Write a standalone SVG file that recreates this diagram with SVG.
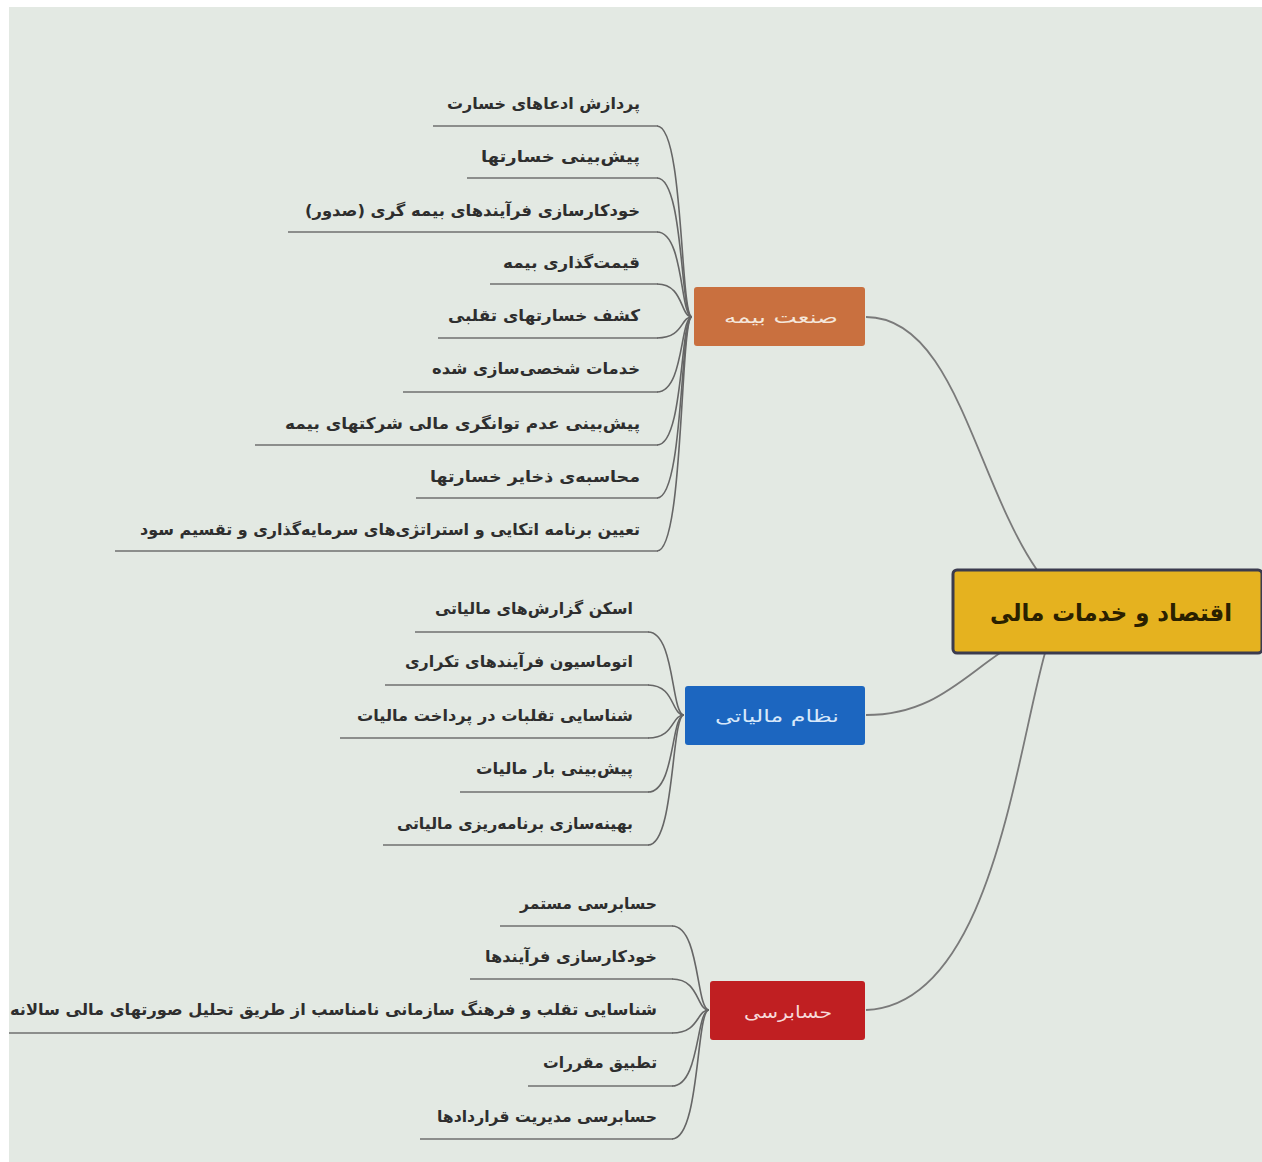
<svg xmlns="http://www.w3.org/2000/svg" width="1262" height="1162" viewBox="0 0 1262 1162">
<style>
.bg{fill:#e3e9e3}
.lbl{font-family:"DejaVu Sans",sans-serif;font-size:16px;font-weight:bold;fill:#2e2e2e}
.ul{stroke:#6f6f6f;stroke-width:1.6;fill:none}
.con{stroke:#666666;stroke-width:1.6;fill:none}
.rcon{stroke:#7a7a7a;stroke-width:1.8;fill:none}
.btxt{font-family:"DejaVu Sans",sans-serif;font-size:17px}
</style>
<rect width="1262" height="1162" fill="#ffffff"/>
<rect x="9" y="7" width="1253" height="1155" class="bg"/>

<g id="connectors">
<path class="rcon" d="M866,317 C955,317 975,480 1037,570"/>
<path class="rcon" d="M866,715 C930,715 960,680 1000,653"/>
<path class="rcon" d="M866,1010 C990,1005 1015,760 1045,653"/>
<!-- insurance -->
<path class="con" d="M692,317 C680,317 684,126 657,126"/>
<path class="con" d="M692,317 C680,317 684,178 657,178"/>
<path class="con" d="M692,317 C680,317 684,232 657,232"/>
<path class="con" d="M692,317 C680,317 684,284 657,284"/>
<path class="con" d="M692,317 C680,317 684,338 657,338"/>
<path class="con" d="M692,317 C680,317 684,392 657,392"/>
<path class="con" d="M692,317 C680,317 684,445 657,445"/>
<path class="con" d="M692,317 C680,317 684,498 657,498"/>
<path class="con" d="M692,317 C680,317 684,551 657,551"/>
<!-- tax -->
<path class="con" d="M684,715 C671,715 675,632 648,632"/>
<path class="con" d="M684,715 C671,715 675,685 648,685"/>
<path class="con" d="M684,715 C671,715 675,738 648,738"/>
<path class="con" d="M684,715 C671,715 675,792 648,792"/>
<path class="con" d="M684,715 C671,715 675,845 648,845"/>
<!-- audit -->
<path class="con" d="M709,1010 C696,1010 700,926 672,926"/>
<path class="con" d="M709,1010 C696,1010 700,979 672,979"/>
<path class="con" d="M709,1010 C696,1010 700,1033 672,1033"/>
<path class="con" d="M709,1010 C696,1010 700,1086 672,1086"/>
<path class="con" d="M709,1010 C696,1010 700,1139 672,1139"/>
</g>

<g id="root">
<rect x="953" y="570" width="309" height="83" rx="4" fill="#e5b21f" stroke="#3b3b4e" stroke-width="3"/>
<text x="1111" y="621" text-anchor="middle" direction="rtl" font-family="DejaVu Sans,sans-serif" font-size="24" font-weight="bold" fill="#2a2000" textLength="242" lengthAdjust="spacingAndGlyphs">اقتصاد و خدمات مالی</text>
</g>

<g id="b-insurance">
<rect x="694" y="287" width="171" height="59" rx="3" fill="#c9703f"/>
<text x="781" y="323" text-anchor="middle" direction="rtl" class="btxt" fill="#f4e6da" textLength="114" lengthAdjust="spacingAndGlyphs">صنعت بیمه</text>
</g>
<g id="b-tax">
<rect x="685" y="686" width="180" height="59" rx="3" fill="#1c66c0"/>
<text x="777" y="722" text-anchor="middle" direction="rtl" class="btxt" fill="#d7e8fa" textLength="124" lengthAdjust="spacingAndGlyphs">نظام مالیاتی</text>
</g>
<g id="b-audit">
<rect x="710" y="981" width="155" height="59" rx="3" fill="#c01f22"/>
<text x="788" y="1018" text-anchor="middle" direction="rtl" class="btxt" fill="#f7dada" textLength="88" lengthAdjust="spacingAndGlyphs">حسابرسی</text>
</g>

<g id="i1"><line class="ul" x1="433" y1="126" x2="658" y2="126"/><text class="lbl" x="543.5" y="109" text-anchor="middle" direction="rtl" textLength="193" lengthAdjust="spacingAndGlyphs">پردازش ادعاهای خسارت</text></g>
<g id="i2"><line class="ul" x1="467" y1="178" x2="658" y2="178"/><text class="lbl" x="560.5" y="162" text-anchor="middle" direction="rtl" textLength="159" lengthAdjust="spacingAndGlyphs">پیش‌بینی خسارتها</text></g>
<g id="i3"><line class="ul" x1="288" y1="232" x2="658" y2="232"/><text class="lbl" x="472.5" y="216" text-anchor="middle" direction="rtl" textLength="335" lengthAdjust="spacingAndGlyphs">خودکارسازی فرآیندهای بیمه گری (صدور)</text></g>
<g id="i4"><line class="ul" x1="490" y1="284" x2="658" y2="284"/><text class="lbl" x="571.5" y="268" text-anchor="middle" direction="rtl" textLength="137" lengthAdjust="spacingAndGlyphs">قیمت‌گذاری بیمه</text></g>
<g id="i5"><line class="ul" x1="438" y1="338" x2="658" y2="338"/><text class="lbl" x="544" y="321" text-anchor="middle" direction="rtl" textLength="192" lengthAdjust="spacingAndGlyphs">کشف خسارتهای تقلبی</text></g>
<g id="i6"><line class="ul" x1="403" y1="392" x2="658" y2="392"/><text class="lbl" x="536" y="374" text-anchor="middle" direction="rtl" textLength="208" lengthAdjust="spacingAndGlyphs">خدمات شخصی‌سازی شده</text></g>
<g id="i7"><line class="ul" x1="255" y1="445" x2="658" y2="445"/><text class="lbl" x="462.5" y="429" text-anchor="middle" direction="rtl" textLength="355" lengthAdjust="spacingAndGlyphs">پیش‌بینی عدم توانگری مالی شرکتهای بیمه</text></g>
<g id="i8"><line class="ul" x1="416" y1="498" x2="658" y2="498"/><text class="lbl" x="535" y="482" text-anchor="middle" direction="rtl" textLength="210" lengthAdjust="spacingAndGlyphs">محاسبه‌ی ذخایر خسارتها</text></g>
<g id="i9"><line class="ul" x1="115" y1="551" x2="658" y2="551"/><text class="lbl" x="390" y="535" text-anchor="middle" direction="rtl" textLength="500" lengthAdjust="spacingAndGlyphs">تعیین برنامه اتکایی و استراتژی‌های سرمایه‌گذاری و تقسیم سود</text></g>

<g id="t1"><line class="ul" x1="415" y1="632" x2="649" y2="632"/><text class="lbl" x="534" y="614" text-anchor="middle" direction="rtl" textLength="198" lengthAdjust="spacingAndGlyphs">اسکن گزارش‌های مالیاتی</text></g>
<g id="t2"><line class="ul" x1="385" y1="685" x2="649" y2="685"/><text class="lbl" x="519" y="667" text-anchor="middle" direction="rtl" textLength="228" lengthAdjust="spacingAndGlyphs">اتوماسیون فرآیندهای تکراری</text></g>
<g id="t3"><line class="ul" x1="340" y1="738" x2="649" y2="738"/><text class="lbl" x="495" y="721" text-anchor="middle" direction="rtl" textLength="276" lengthAdjust="spacingAndGlyphs">شناسایی تقلبات در پرداخت مالیات</text></g>
<g id="t4"><line class="ul" x1="460" y1="792" x2="649" y2="792"/><text class="lbl" x="554.5" y="774" text-anchor="middle" direction="rtl" textLength="157" lengthAdjust="spacingAndGlyphs">پیش‌بینی بار مالیات</text></g>
<g id="t5"><line class="ul" x1="383" y1="845" x2="649" y2="845"/><text class="lbl" x="515" y="829" text-anchor="middle" direction="rtl" textLength="236" lengthAdjust="spacingAndGlyphs">بهینه‌سازی برنامه‌ریزی مالیاتی</text></g>

<g id="a1"><line class="ul" x1="500" y1="926" x2="673" y2="926"/><text class="lbl" x="588.5" y="909" text-anchor="middle" direction="rtl" textLength="137" lengthAdjust="spacingAndGlyphs">حسابرسی مستمر</text></g>
<g id="a2"><line class="ul" x1="470" y1="979" x2="673" y2="979"/><text class="lbl" x="571" y="962" text-anchor="middle" direction="rtl" textLength="172" lengthAdjust="spacingAndGlyphs">خودکارسازی فرآیندها</text></g>
<g id="a3"><line class="ul" x1="9" y1="1033" x2="673" y2="1033"/><text class="lbl" x="333.5" y="1015" text-anchor="middle" direction="rtl" textLength="647" lengthAdjust="spacingAndGlyphs">شناسایی تقلب و فرهنگ سازمانی نامناسب از طریق تحلیل صورتهای مالی سالانه</text></g>
<g id="a4"><line class="ul" x1="528" y1="1086" x2="673" y2="1086"/><text class="lbl" x="600" y="1068" text-anchor="middle" direction="rtl" textLength="114" lengthAdjust="spacingAndGlyphs">تطبیق مقررات</text></g>
<g id="a5"><line class="ul" x1="420" y1="1139" x2="673" y2="1139"/><text class="lbl" x="547" y="1122" text-anchor="middle" direction="rtl" textLength="220" lengthAdjust="spacingAndGlyphs">حسابرسی مدیریت قراردادها</text></g>
</svg>
